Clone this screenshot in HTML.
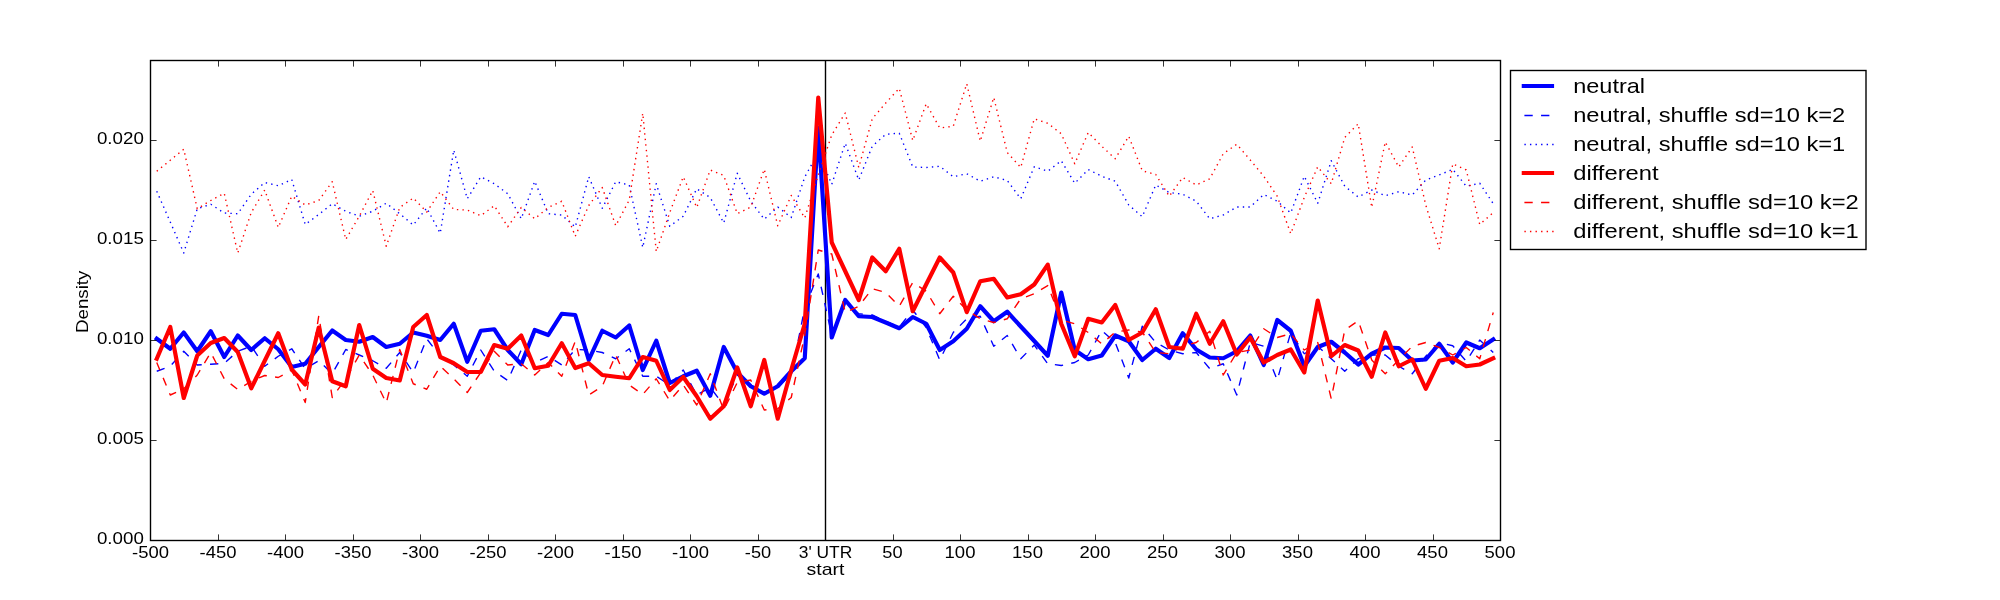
<!DOCTYPE html>
<html><head><meta charset="utf-8"><title>Density</title>
<style>
html,body{margin:0;padding:0;background:#fff;}
body{width:2000px;height:600px;overflow:hidden;}
svg{display:block;will-change:transform;}
text{font-family:"Liberation Sans",sans-serif;fill:#000;}
</style></head><body>
<svg width="2000" height="600" viewBox="0 0 2000 600">
<rect x="0" y="0" width="2000" height="600" fill="#ffffff"/>
<defs><clipPath id="c"><rect x="150.5" y="60.5" width="1350" height="480"/></clipPath></defs>
<g clip-path="url(#c)" fill="none" stroke-linejoin="round" stroke-linecap="butt">
<line x1="825.5" y1="60" x2="825.5" y2="541" stroke="#000" stroke-width="1.4"/>
<polyline points="156.75,338.75 170.25,348.75 183.75,332.50 197.25,351.25 210.75,331.25 224.25,357.00 237.75,335.50 251.25,350.00 264.75,338.25 278.25,349.25 291.75,367.00 305.25,363.75 318.75,347.00 332.25,330.50 345.75,340.00 359.25,341.75 372.75,337.00 386.25,347.00 399.75,343.75 413.25,332.50 426.75,335.75 440.25,340.00 453.75,323.75 467.25,361.75 480.75,330.75 494.25,329.25 507.75,350.00 521.25,364.25 534.75,330.00 548.25,335.00 561.75,313.75 575.25,315.00 588.75,360.00 602.25,330.75 615.75,337.50 629.25,325.50 642.75,370.00 656.25,340.75 669.75,383.00 683.25,376.25 696.75,370.75 710.25,395.75 723.75,347.00 737.25,372.50 750.75,386.25 764.25,393.75 777.75,386.25 791.25,371.25 804.75,358.25 818.25,127.50 831.75,337.50 845.25,300.00 858.75,316.25 872.25,317.00 885.75,322.50 899.25,328.25 912.75,317.00 926.25,323.75 939.75,350.00 953.25,341.25 966.75,328.75 980.25,306.25 993.75,321.25 1007.25,311.75 1020.75,326.50 1034.25,341.00 1047.75,355.75 1061.25,292.50 1074.75,350.00 1088.25,359.25 1101.75,355.50 1115.25,335.50 1128.75,341.25 1142.25,360.00 1155.75,348.75 1169.25,358.00 1182.75,333.25 1196.25,349.50 1209.75,357.50 1223.25,358.25 1236.75,351.25 1250.25,335.50 1263.75,365.00 1277.25,320.00 1290.75,330.75 1304.25,366.25 1317.75,347.00 1331.25,341.75 1344.75,352.50 1358.25,364.50 1371.75,353.75 1385.25,347.50 1398.75,348.00 1412.25,360.50 1425.75,359.50 1439.25,343.75 1452.75,362.50 1466.25,342.50 1479.75,348.25 1493.25,339.50" stroke="#0000ff" stroke-width="4.17" stroke-linecap="square"/>
<polyline points="156.75,371.25 170.25,366.25 183.75,351.25 197.25,365.00 210.75,364.25 224.25,363.25 237.75,351.25 251.25,346.25 264.75,366.25 278.25,356.25 291.75,348.75 305.25,368.75 318.75,360.75 332.25,373.75 345.75,349.50 359.25,355.00 372.75,360.75 386.25,368.25 399.75,352.50 413.25,372.50 426.75,338.75 440.25,356.25 453.75,365.00 467.25,376.25 480.75,350.00 494.25,371.25 507.75,380.50 521.25,350.00 534.75,362.50 548.25,356.25 561.75,365.00 575.25,349.50 588.75,350.00 602.25,352.50 615.75,358.75 629.25,348.75 642.75,376.25 656.25,376.25 669.75,385.00 683.25,370.00 696.75,395.00 710.25,387.50 723.75,405.00 737.25,375.00 750.75,385.00 764.25,392.50 777.75,386.25 791.25,375.00 804.75,308.00 818.25,274.00 831.75,335.00 845.25,301.25 858.75,313.75 872.25,315.00 885.75,321.25 899.25,327.00 912.75,310.00 926.25,327.50 939.75,360.00 953.25,332.50 966.75,318.75 980.25,316.25 993.75,346.25 1007.25,335.50 1020.75,358.75 1034.25,345.00 1047.75,363.75 1061.25,365.50 1074.75,362.50 1088.25,355.00 1101.75,330.50 1115.25,342.50 1128.75,378.00 1142.25,326.25 1155.75,342.50 1169.25,350.00 1182.75,353.75 1196.25,352.50 1209.75,368.75 1223.25,363.75 1236.75,395.00 1250.25,342.50 1263.75,346.25 1277.25,380.00 1290.75,332.50 1304.25,353.75 1317.75,346.25 1331.25,358.75 1344.75,371.25 1358.25,358.75 1371.75,355.00 1385.25,355.00 1398.75,366.25 1412.25,373.75 1425.75,356.25 1439.25,342.50 1452.75,345.75 1466.25,361.25 1479.75,340.00 1493.25,352.50" stroke="#0000ff" stroke-width="1.39" stroke-dasharray="8.33 8.33"/>
<polyline points="156.75,191.25 170.25,222.00 183.75,253.00 197.25,208.75 210.75,204.25 224.25,213.00 237.75,213.75 251.25,194.25 264.75,182.50 278.25,185.75 291.75,179.50 305.25,224.50 318.75,214.50 332.25,203.75 345.75,211.25 359.25,216.25 372.75,211.25 386.25,203.25 399.75,213.75 413.25,225.00 426.75,208.00 440.25,233.25 453.75,150.00 467.25,198.75 480.75,176.75 494.25,183.75 507.75,193.75 521.25,218.75 534.75,181.25 548.25,213.75 561.75,215.00 575.25,227.00 588.75,176.75 602.25,208.25 615.75,181.75 629.25,185.00 642.75,247.50 656.25,183.75 669.75,226.25 683.25,216.25 696.75,188.75 710.25,197.50 723.75,223.00 737.25,173.25 750.75,201.25 764.25,219.25 777.75,207.00 791.25,217.50 804.75,177.00 818.25,152.50 831.75,184.25 845.25,143.25 858.75,180.00 872.25,146.25 885.75,134.25 899.25,133.25 912.75,167.00 926.25,167.50 939.75,166.25 953.25,176.75 966.75,173.75 980.25,181.25 993.75,176.75 1007.25,180.50 1020.75,198.75 1034.25,166.75 1047.75,171.25 1061.25,160.75 1074.75,183.25 1088.25,169.50 1101.75,176.25 1115.25,181.25 1128.75,205.00 1142.25,216.75 1155.75,185.00 1169.25,192.50 1182.75,194.25 1196.25,201.25 1209.75,218.75 1223.25,215.00 1236.75,207.00 1250.25,207.00 1263.75,194.50 1277.25,201.25 1290.75,213.00 1304.25,176.25 1317.75,203.25 1331.25,160.75 1344.75,186.25 1358.25,197.00 1371.75,190.00 1385.25,195.75 1398.75,191.75 1412.25,195.00 1425.75,180.00 1439.25,175.00 1452.75,169.25 1466.25,186.25 1479.75,183.25 1493.25,203.75" stroke="#0000ff" stroke-width="1.39" stroke-dasharray="1.39 4.17"/>
<polyline points="156.75,358.75 170.25,327.00 183.75,398.00 197.25,355.50 210.75,343.00 224.25,338.00 237.75,352.00 251.25,388.25 264.75,360.75 278.25,333.25 291.75,369.50 305.25,384.50 318.75,327.50 332.25,381.25 345.75,386.25 359.25,325.00 372.75,368.75 386.25,378.00 399.75,380.50 413.25,327.00 426.75,315.00 440.25,357.00 453.75,363.25 467.25,372.00 480.75,372.00 494.25,345.00 507.75,348.75 521.25,335.50 534.75,368.25 548.25,365.75 561.75,343.25 575.25,368.00 588.75,363.25 602.25,375.00 615.75,376.75 629.25,378.25 642.75,357.00 656.25,360.75 669.75,390.00 683.25,377.00 696.75,396.25 710.25,418.75 723.75,406.25 737.25,367.50 750.75,406.25 764.25,360.00 777.75,418.75 791.25,370.00 804.75,323.75 818.25,97.50 831.75,242.50 845.25,271.25 858.75,300.00 872.25,257.50 885.75,271.25 899.25,248.75 912.75,311.25 926.25,284.25 939.75,257.50 953.25,272.50 966.75,312.20 980.25,281.25 993.75,278.75 1007.25,297.50 1020.75,294.25 1034.25,284.50 1047.75,264.60 1061.25,323.75 1074.75,356.25 1088.25,318.75 1101.75,322.50 1115.25,305.00 1128.75,340.00 1142.25,332.50 1155.75,309.25 1169.25,347.00 1182.75,348.75 1196.25,313.75 1209.75,343.75 1223.25,321.25 1236.75,354.50 1250.25,337.50 1263.75,362.50 1277.25,355.00 1290.75,349.50 1304.25,372.50 1317.75,300.50 1331.25,356.25 1344.75,345.00 1358.25,350.50 1371.75,376.75 1385.25,332.50 1398.75,366.25 1412.25,359.50 1425.75,388.75 1439.25,360.75 1452.75,358.00 1466.25,366.25 1479.75,364.50 1493.25,358.25" stroke="#ff0000" stroke-width="4.17" stroke-linecap="square"/>
<polyline points="156.75,362.50 170.25,395.00 183.75,388.75 197.25,375.00 210.75,352.50 224.25,378.75 237.75,389.50 251.25,381.25 264.75,375.50 278.25,377.50 291.75,370.00 305.25,402.50 318.75,315.75 332.25,397.50 345.75,378.75 359.25,355.00 372.75,375.00 386.25,403.00 399.75,349.50 413.25,383.75 426.75,389.25 440.25,366.25 453.75,378.75 467.25,392.50 480.75,372.50 494.25,351.25 507.75,365.00 521.25,363.75 534.75,375.00 548.25,362.50 561.75,376.25 575.25,341.25 588.75,395.00 602.25,386.25 615.75,355.00 629.25,385.00 642.75,394.50 656.25,378.75 669.75,400.75 683.25,385.00 696.75,405.00 710.25,373.75 723.75,410.00 737.25,382.50 750.75,380.00 764.25,410.00 777.75,408.75 791.25,397.50 804.75,335.00 818.25,250.00 831.75,254.00 845.25,312.50 858.75,306.25 872.25,288.75 885.75,292.50 899.25,306.25 912.75,282.50 926.25,291.25 939.75,313.75 953.25,296.25 966.75,310.00 980.25,318.75 993.75,322.50 1007.25,318.75 1020.75,298.75 1034.25,293.75 1047.75,285.60 1061.25,320.00 1074.75,323.75 1088.25,332.50 1101.75,343.75 1115.25,332.00 1128.75,330.00 1142.25,332.00 1155.75,352.50 1169.25,353.75 1182.75,346.25 1196.25,342.50 1209.75,331.25 1223.25,375.00 1236.75,352.50 1250.25,350.00 1263.75,328.75 1277.25,337.50 1290.75,333.75 1304.25,350.00 1317.75,342.50 1331.25,398.75 1344.75,330.00 1358.25,320.75 1371.75,360.00 1385.25,373.75 1398.75,360.00 1412.25,346.25 1425.75,342.50 1439.25,347.50 1452.75,355.00 1466.25,347.50 1479.75,358.75 1493.25,312.50" stroke="#ff0000" stroke-width="1.39" stroke-dasharray="8.33 8.33"/>
<polyline points="156.75,171.25 170.25,160.25 183.75,149.25 197.25,208.75 210.75,200.50 224.25,193.25 237.75,253.00 251.25,212.50 264.75,190.00 278.25,227.50 291.75,196.25 305.25,205.00 318.75,200.50 332.25,181.75 345.75,239.50 359.25,216.25 372.75,190.50 386.25,246.25 399.75,207.50 413.25,198.00 426.75,212.00 440.25,191.75 453.75,209.50 467.25,210.00 480.75,215.75 494.25,205.75 507.75,226.75 521.25,207.50 534.75,218.75 548.25,207.50 561.75,201.25 575.25,236.25 588.75,205.50 602.25,187.50 615.75,225.75 629.25,200.00 642.75,113.25 656.25,251.50 669.75,212.50 683.25,176.75 696.75,207.50 710.25,170.00 723.75,175.50 737.25,213.75 750.75,207.00 764.25,169.25 777.75,225.75 791.25,195.50 804.75,218.00 818.25,175.00 831.75,135.00 845.25,113.00 858.75,167.50 872.25,118.75 885.75,103.00 899.25,88.25 912.75,140.50 926.25,103.75 939.75,128.00 953.25,126.25 966.75,83.75 980.25,141.25 993.75,97.50 1007.25,152.50 1020.75,167.50 1034.25,118.75 1047.75,123.25 1061.25,133.75 1074.75,163.75 1088.25,132.50 1101.75,146.25 1115.25,158.75 1128.75,136.25 1142.25,170.75 1155.75,174.50 1169.25,196.25 1182.75,177.50 1196.25,185.00 1209.75,178.75 1223.25,153.75 1236.75,144.25 1250.25,160.00 1263.75,176.25 1277.25,196.25 1290.75,233.75 1304.25,197.50 1317.75,166.75 1331.25,183.75 1344.75,137.50 1358.25,123.75 1371.75,207.50 1385.25,142.00 1398.75,167.00 1412.25,147.00 1425.75,205.00 1439.25,248.75 1452.75,163.75 1466.25,170.00 1479.75,224.50 1493.25,212.50" stroke="#ff0000" stroke-width="1.39" stroke-dasharray="1.39 4.17"/>
</g>
<rect x="150.5" y="60.5" width="1350" height="480" fill="none" stroke="#000" stroke-width="1.39"/>
<g stroke="#000" stroke-width="0.8">
<line x1="150.5" y1="540.5" x2="150.5" y2="534.4"/><line x1="150.5" y1="60.5" x2="150.5" y2="66.6"/>
<line x1="218.5" y1="540.5" x2="218.5" y2="534.4"/><line x1="218.5" y1="60.5" x2="218.5" y2="66.6"/>
<line x1="285.5" y1="540.5" x2="285.5" y2="534.4"/><line x1="285.5" y1="60.5" x2="285.5" y2="66.6"/>
<line x1="353.5" y1="540.5" x2="353.5" y2="534.4"/><line x1="353.5" y1="60.5" x2="353.5" y2="66.6"/>
<line x1="420.5" y1="540.5" x2="420.5" y2="534.4"/><line x1="420.5" y1="60.5" x2="420.5" y2="66.6"/>
<line x1="488.5" y1="540.5" x2="488.5" y2="534.4"/><line x1="488.5" y1="60.5" x2="488.5" y2="66.6"/>
<line x1="555.5" y1="540.5" x2="555.5" y2="534.4"/><line x1="555.5" y1="60.5" x2="555.5" y2="66.6"/>
<line x1="623.5" y1="540.5" x2="623.5" y2="534.4"/><line x1="623.5" y1="60.5" x2="623.5" y2="66.6"/>
<line x1="690.5" y1="540.5" x2="690.5" y2="534.4"/><line x1="690.5" y1="60.5" x2="690.5" y2="66.6"/>
<line x1="758.5" y1="540.5" x2="758.5" y2="534.4"/><line x1="758.5" y1="60.5" x2="758.5" y2="66.6"/>
<line x1="825.5" y1="540.5" x2="825.5" y2="534.4"/><line x1="825.5" y1="60.5" x2="825.5" y2="66.6"/>
<line x1="893.5" y1="540.5" x2="893.5" y2="534.4"/><line x1="893.5" y1="60.5" x2="893.5" y2="66.6"/>
<line x1="960.5" y1="540.5" x2="960.5" y2="534.4"/><line x1="960.5" y1="60.5" x2="960.5" y2="66.6"/>
<line x1="1028.5" y1="540.5" x2="1028.5" y2="534.4"/><line x1="1028.5" y1="60.5" x2="1028.5" y2="66.6"/>
<line x1="1095.5" y1="540.5" x2="1095.5" y2="534.4"/><line x1="1095.5" y1="60.5" x2="1095.5" y2="66.6"/>
<line x1="1163.5" y1="540.5" x2="1163.5" y2="534.4"/><line x1="1163.5" y1="60.5" x2="1163.5" y2="66.6"/>
<line x1="1230.5" y1="540.5" x2="1230.5" y2="534.4"/><line x1="1230.5" y1="60.5" x2="1230.5" y2="66.6"/>
<line x1="1298.5" y1="540.5" x2="1298.5" y2="534.4"/><line x1="1298.5" y1="60.5" x2="1298.5" y2="66.6"/>
<line x1="1365.5" y1="540.5" x2="1365.5" y2="534.4"/><line x1="1365.5" y1="60.5" x2="1365.5" y2="66.6"/>
<line x1="1433.5" y1="540.5" x2="1433.5" y2="534.4"/><line x1="1433.5" y1="60.5" x2="1433.5" y2="66.6"/>
<line x1="1500.5" y1="540.5" x2="1500.5" y2="534.4"/><line x1="1500.5" y1="60.5" x2="1500.5" y2="66.6"/>
<line x1="150.5" y1="540.5" x2="156.6" y2="540.5"/><line x1="1500.5" y1="540.5" x2="1494.4" y2="540.5"/>
<line x1="150.5" y1="440.5" x2="156.6" y2="440.5"/><line x1="1500.5" y1="440.5" x2="1494.4" y2="440.5"/>
<line x1="150.5" y1="340.5" x2="156.6" y2="340.5"/><line x1="1500.5" y1="340.5" x2="1494.4" y2="340.5"/>
<line x1="150.5" y1="240.5" x2="156.6" y2="240.5"/><line x1="1500.5" y1="240.5" x2="1494.4" y2="240.5"/>
<line x1="150.5" y1="140.5" x2="156.6" y2="140.5"/><line x1="1500.5" y1="140.5" x2="1494.4" y2="140.5"/>
</g>
<text x="150.50" y="558.20" font-size="17.0" text-anchor="middle" textLength="36.93" lengthAdjust="spacingAndGlyphs">-500</text>
<text x="218.00" y="558.20" font-size="17.0" text-anchor="middle" textLength="36.93" lengthAdjust="spacingAndGlyphs">-450</text>
<text x="285.50" y="558.20" font-size="17.0" text-anchor="middle" textLength="36.93" lengthAdjust="spacingAndGlyphs">-400</text>
<text x="353.00" y="558.20" font-size="17.0" text-anchor="middle" textLength="36.93" lengthAdjust="spacingAndGlyphs">-350</text>
<text x="420.50" y="558.20" font-size="17.0" text-anchor="middle" textLength="36.93" lengthAdjust="spacingAndGlyphs">-300</text>
<text x="488.00" y="558.20" font-size="17.0" text-anchor="middle" textLength="36.93" lengthAdjust="spacingAndGlyphs">-250</text>
<text x="555.50" y="558.20" font-size="17.0" text-anchor="middle" textLength="36.93" lengthAdjust="spacingAndGlyphs">-200</text>
<text x="623.00" y="558.20" font-size="17.0" text-anchor="middle" textLength="36.93" lengthAdjust="spacingAndGlyphs">-150</text>
<text x="690.50" y="558.20" font-size="17.0" text-anchor="middle" textLength="36.93" lengthAdjust="spacingAndGlyphs">-100</text>
<text x="758.00" y="558.20" font-size="17.0" text-anchor="middle" textLength="26.32" lengthAdjust="spacingAndGlyphs">-50</text>
<text x="825.50" y="558.20" font-size="17.0" text-anchor="middle" textLength="53.55" lengthAdjust="spacingAndGlyphs">3' UTR</text>
<text x="892.50" y="558.20" font-size="17.0" text-anchor="middle" textLength="20.31" lengthAdjust="spacingAndGlyphs">50</text>
<text x="960.00" y="558.20" font-size="17.0" text-anchor="middle" textLength="30.91" lengthAdjust="spacingAndGlyphs">100</text>
<text x="1027.50" y="558.20" font-size="17.0" text-anchor="middle" textLength="30.91" lengthAdjust="spacingAndGlyphs">150</text>
<text x="1095.00" y="558.20" font-size="17.0" text-anchor="middle" textLength="30.91" lengthAdjust="spacingAndGlyphs">200</text>
<text x="1162.50" y="558.20" font-size="17.0" text-anchor="middle" textLength="30.91" lengthAdjust="spacingAndGlyphs">250</text>
<text x="1230.00" y="558.20" font-size="17.0" text-anchor="middle" textLength="30.91" lengthAdjust="spacingAndGlyphs">300</text>
<text x="1297.50" y="558.20" font-size="17.0" text-anchor="middle" textLength="30.91" lengthAdjust="spacingAndGlyphs">350</text>
<text x="1365.00" y="558.20" font-size="17.0" text-anchor="middle" textLength="30.91" lengthAdjust="spacingAndGlyphs">400</text>
<text x="1432.50" y="558.20" font-size="17.0" text-anchor="middle" textLength="30.91" lengthAdjust="spacingAndGlyphs">450</text>
<text x="1500.00" y="558.20" font-size="17.0" text-anchor="middle" textLength="30.91" lengthAdjust="spacingAndGlyphs">500</text>
<text x="143.80" y="544.20" font-size="17.0" text-anchor="end" textLength="46.82" lengthAdjust="spacingAndGlyphs">0.000</text>
<text x="143.80" y="444.20" font-size="17.0" text-anchor="end" textLength="46.82" lengthAdjust="spacingAndGlyphs">0.005</text>
<text x="143.80" y="344.20" font-size="17.0" text-anchor="end" textLength="46.82" lengthAdjust="spacingAndGlyphs">0.010</text>
<text x="143.80" y="244.20" font-size="17.0" text-anchor="end" textLength="46.82" lengthAdjust="spacingAndGlyphs">0.015</text>
<text x="143.80" y="144.20" font-size="17.0" text-anchor="end" textLength="46.82" lengthAdjust="spacingAndGlyphs">0.020</text>
<text x="825.50" y="575.20" font-size="17.0" text-anchor="middle" textLength="37.92" lengthAdjust="spacingAndGlyphs">start</text>
<text transform="translate(87.7,301.8) rotate(-90)" font-size="17.0" text-anchor="middle" textLength="62.46" lengthAdjust="spacingAndGlyphs">Density</text>
<rect x="1510.5" y="70.5" width="355.5" height="179" fill="#fff" stroke="#000" stroke-width="1.39"/>
<line x1="1521.72" y1="86.00" x2="1554.08" y2="86.00" stroke="#0000ff" stroke-width="4.17"/>
<text x="1573.20" y="93.00" font-size="20.4" text-anchor="start" textLength="71.89" lengthAdjust="spacingAndGlyphs">neutral</text>
<line x1="1524.40" y1="115.50" x2="1553.80" y2="115.50" stroke="#0000ff" stroke-width="1.39" stroke-dasharray="8.33 8.33"/>
<text x="1573.20" y="121.98" font-size="20.4" text-anchor="start" textLength="272.12" lengthAdjust="spacingAndGlyphs">neutral, shuffle sd=10 k=2</text>
<line x1="1524.40" y1="144.50" x2="1553.80" y2="144.50" stroke="#0000ff" stroke-width="1.39" stroke-dasharray="1.39 4.17"/>
<text x="1573.20" y="150.96" font-size="20.4" text-anchor="start" textLength="272.12" lengthAdjust="spacingAndGlyphs">neutral, shuffle sd=10 k=1</text>
<line x1="1521.72" y1="173.00" x2="1554.08" y2="173.00" stroke="#ff0000" stroke-width="4.17"/>
<text x="1573.20" y="179.94" font-size="20.4" text-anchor="start" textLength="85.37" lengthAdjust="spacingAndGlyphs">different</text>
<line x1="1524.40" y1="202.50" x2="1553.80" y2="202.50" stroke="#ff0000" stroke-width="1.39" stroke-dasharray="8.33 8.33"/>
<text x="1573.20" y="208.92" font-size="20.4" text-anchor="start" textLength="285.60" lengthAdjust="spacingAndGlyphs">different, shuffle sd=10 k=2</text>
<line x1="1524.40" y1="231.50" x2="1553.80" y2="231.50" stroke="#ff0000" stroke-width="1.39" stroke-dasharray="1.39 4.17"/>
<text x="1573.20" y="237.90" font-size="20.4" text-anchor="start" textLength="285.60" lengthAdjust="spacingAndGlyphs">different, shuffle sd=10 k=1</text>
</svg>
</body></html>
